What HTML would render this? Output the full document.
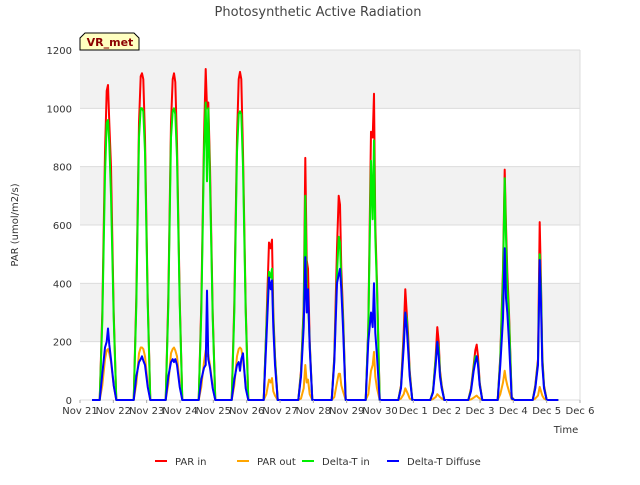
<!DOCTYPE html>
<html><head><meta charset="utf-8"><style>
body{margin:0;background:#fff;font-family:"Liberation Sans","DejaVu Sans",sans-serif}
svg text{font-family:"DejaVu Sans","Liberation Sans",sans-serif}
</style></head><body>
<svg id="chart" width="640" height="480" viewBox="0 0 640 480" xmlns="http://www.w3.org/2000/svg">
<rect width="640" height="480" fill="#fff"/>
<g id="bands"></g>
<g id="grid"></g>
<g id="series"></g>
<g id="axes"></g>
<text x="318" y="16" text-anchor="middle" font-size="13" fill="#444">Photosynthetic Active Radiation</text>
<text transform="translate(18,225) rotate(-90)" text-anchor="middle" font-size="10" fill="#333">PAR (umol/m2/s)</text>
<text x="566" y="433" text-anchor="middle" font-size="10" fill="#333">Time</text>
<g>
<path d="M80,50 L80,38 L85,33 L134,33 L139,38 L139,50 Z" fill="#ffffc0" stroke="#000" stroke-width="1"/>
<text x="110" y="46" text-anchor="middle" font-size="11" font-weight="bold" fill="#8b0000">VR_met</text>
</g>
<g id="legend"></g>
</svg>
<script>
const dayLabels=["Nov 21","Nov 22","Nov 23","Nov 24","Nov 25","Nov 26","Nov 27","Nov 28","Nov 29","Nov 30","Dec 1","Dec 2","Dec 3","Dec 4","Dec 5","Dec 6"];
const yTicks=[0,200,400,600,800,1000,1200];
const peakCenters=[0.84,1.86,2.82,3.81,4.8,5.76,6.8,7.8,8.82,9.8,10.76,11.9,12.78,13.83];
const offsets=[-0.25,-0.17,-0.09,-0.04,0,0.04,0.09,0.17,0.25];
const parIn=[
[0,300,850,1060,1080,950,800,300,0],[0,350,950,1110,1120,1100,900,350,0],
[0,350,950,1100,1120,1090,880,350,0],[0,330,900,1135,1000,1020,800,300,0],
[0,330,900,1100,1125,1100,850,320,0],[0,250,540,520,550,300,150,0,0],
[0,100,320,830,480,450,200,0,0],[0,150,520,700,670,450,300,0,0],
[0,250,920,900,1050,600,400,0,0],[0,50,230,380,300,230,100,0,0],
[0,30,150,250,200,100,50,0,0],[0,40,120,170,190,150,60,0,0],
[0,150,450,790,600,440,300,10,0],[0,50,140,610,400,150,50,0,0]];
const deltaTIn=[
[0,270,770,950,960,880,700,280,0],[0,320,900,1000,1000,990,850,330,0],
[0,320,900,990,1000,980,830,330,0],[0,300,850,1020,750,1000,750,280,0],
[0,300,850,980,990,980,800,300,0],[0,240,440,420,450,280,140,0,0],
[0,90,300,700,380,350,190,0,0],[0,140,430,560,540,400,280,0,0],
[0,240,820,620,890,560,380,0,0],[0,45,200,300,280,200,90,0,0],
[0,30,140,200,180,90,45,0,0],[0,35,110,150,150,130,55,0,0],
[0,140,420,760,560,400,280,8,0],[0,45,130,500,380,140,45,0,0]];
const parOut=[
[0,50,140,170,175,160,130,50,0],[0,55,160,180,180,175,150,55,0],
[0,55,160,175,180,170,150,55,0],[0,45,130,170,150,155,120,45,0],
[0,50,150,175,180,175,140,50,0],[0,20,70,60,75,30,15,0,0],
[0,5,40,120,60,70,20,0,0],[0,10,60,90,90,50,30,0,0],
[0,20,100,120,165,80,40,0,0],[0,5,20,40,30,20,5,0,0],
[0,3,10,20,15,10,5,0,0],[0,2,8,12,15,10,5,0,0],
[0,20,60,100,70,50,30,2,0],[0,5,15,45,30,15,5,0,0]];
const diffuse=[
[0,90,180,200,245,190,140,50,0],[0,80,130,140,150,135,120,45,0],
[0,80,130,140,130,140,120,45,0],[0,70,110,120,375,140,110,40,0],
[0,70,120,130,100,140,160,40,0],[0,200,420,380,410,250,120,0,0],
[0,80,250,490,300,380,180,0,0],[0,130,400,430,450,380,250,0,0],
[0,200,300,250,400,230,150,0,0],[0,40,180,300,250,180,80,0,0],
[0,25,120,200,150,80,40,0,0],[0,30,100,130,150,120,50,0,0],
[0,120,280,520,350,300,200,5,0],[0,40,120,480,330,120,40,0,0]];
const seriesNames=["PAR in","PAR out","Delta-T in","Delta-T Diffuse"];
const seriesColors=["#ff0000","#ffa500","#00ee00","#0000ff"];
const X0=80,X1=580,Y0=400,Y1=50;
function xs(d){return X0+(X1-X0)*d/15;}
function ys(v){return Y0-(Y0-Y1)*v/1200;}
const NS="http://www.w3.org/2000/svg";
function mk(tag,attrs,parent){const e=document.createElementNS(NS,tag);for(const k in attrs)e.setAttribute(k,attrs[k]);parent.appendChild(e);return e;}
const bands=document.getElementById('bands'),grid=document.getElementById('grid'),axes=document.getElementById('axes'),ser=document.getElementById('series');
for(let i=0;i<yTicks.length-1;i++){
  if(i%2===1){const r=mk('rect',{x:X0,y:ys(yTicks[i+1]),width:X1-X0,height:ys(yTicks[i])-ys(yTicks[i+1]),fill:'#f2f2f2'},bands);
  
  }
}
yTicks.forEach(v=>{
  const l=mk('line',{x1:X0,x2:X1,y1:ys(v),y2:ys(v),stroke:'#dcdcdc','stroke-width':1},grid);
  
  
  const t=mk('text',{x:X0-8,y:ys(v)+4,'text-anchor':'end','font-size':10,fill:'#333'},axes);t.textContent=v;
  
  
});
dayLabels.forEach((d,i)=>{
  const t=mk('text',{x:xs(i),y:414,'text-anchor':'middle','font-size':10,fill:'#333'},axes);t.textContent=d;
  
  
  const k=mk('line',{x1:xs(i),x2:xs(i),y1:400,y2:403,stroke:'#aaa'},axes);
  
  
});
mk('line',{x1:X1,x2:X1,y1:Y1,y2:Y0,stroke:'#dcdcdc'},grid);
const allData=[parIn,parOut,deltaTIn,diffuse];
const drawOrder=[0,1,2,3];
drawOrder.forEach(s=>{
  let pts=[[xs(0.36),ys(0)]];
  allData[s].forEach((day,i)=>{day.forEach((v,j)=>pts.push([xs(peakCenters[i]+offsets[j]),ys(v)]));});
  pts.push([xs(14.35),ys(0)]);
  const p=mk('polyline',{points:pts.map(p=>p[0].toFixed(1)+','+p[1].toFixed(1)).join(' '),fill:'none',stroke:seriesColors[s],'stroke-width':2,'stroke-linejoin':'round'},ser);
  
  
});
const lg=document.getElementById('legend');
const lx=[155,237,302,387];
seriesNames.forEach((n,i)=>{
  const g=mk('g',{},lg);
  
  
  mk('line',{x1:lx[i],x2:lx[i]+12,y1:461,y2:461,stroke:seriesColors[i],'stroke-width':2},g);
  const t=mk('text',{x:lx[i]+20,y:465,'font-size':10,fill:'#333'},g);t.textContent=n;
});
</script>
</body></html>
